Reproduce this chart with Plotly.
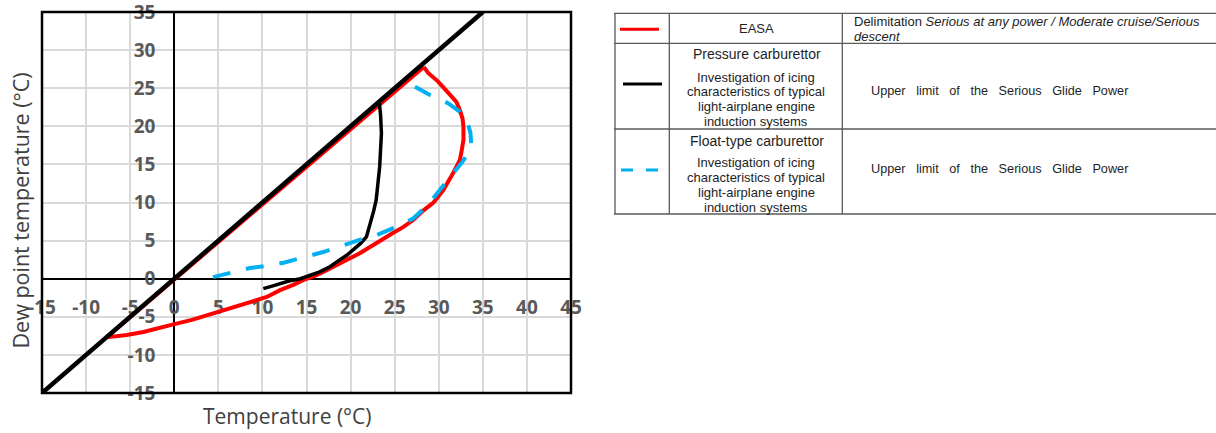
import plotly.graph_objects as go

# ---------------- data ----------------
diag_temp = [-15, 35]
diag_dew = [-15, 35]

easa_temp = [28.3, 28.8, 29.2, 29.9, 30.6, 31.4, 32.0, 32.4, 32.7, 32.8, 32.8, 32.6, 32.4,
             31.6, 30.5, 29.4, 28.2, 27.1, 26.0, 24.8, 23.5, 22.2, 21.0, 19.6, 18.2, 16.9,
             15.8, 14.6, 13.5, 12.0, 10.5, 8.6, 6.7, 5.0, 3.7, 2.0, -0.1, -2.0, -3.5, -5.4,
             -7.3, -7.7, 28.3]
easa_dew = [27.8, 27.0, 26.6, 25.9, 25.0, 23.9, 23.2, 22.1, 21.0, 19.9, 18.2, 16.8, 15.6,
            13.8, 11.6, 10.0, 8.9, 7.7, 6.8, 6.0, 5.1, 4.2, 3.3, 2.5, 1.6, 0.9,
            0.3, -0.2, -0.8, -1.5, -2.4, -3.1, -3.7, -4.3, -4.8, -5.4, -6.0, -6.6, -7.0, -7.4,
            -7.6, -7.7, 27.8]

press_temp = [23.25, 23.4, 23.5, 23.4, 23.3, 23.1, 22.9, 22.6, 22.2, 21.8, 21.1, 20.3, 19.6,
              18.8, 17.7, 16.5, 15.4, 14.3, 13.0, 12.0, 11.0, 10.1]
press_dew = [23.2, 21.5, 19.1, 16.5, 14.7, 12.5, 10.3, 8.8, 7.3, 5.5, 4.6, 3.8, 3.1,
             2.5, 1.6, 0.9, 0.4, 0.0, -0.3, -0.6, -1.0, -1.3]

float_temp = [27.3, 29.0, 30.2, 31.1, 32.4, 33.2, 33.6, 33.7, 33.2, 32.6, 31.6, 30.6, 29.4,
              28.4, 27.1, 25.2, 22.9, 21.0, 19.0, 16.9, 14.3, 12.4, 10.5, 8.6, 6.5, 4.4]
float_dew = [25.2, 24.1, 23.5, 23.0, 21.9, 20.8, 19.1, 17.3, 16.2, 15.2, 13.8, 12.3, 10.6,
             9.3, 7.9, 6.8, 5.7, 5.1, 4.3, 3.5, 2.7, 2.1, 1.7, 1.4, 0.8, 0.2]

x_range = [-15, 45]
y_range = [-15, 35]
x_tickvals = [-15, -10, -5, 0, 5, 10, 15, 20, 25, 30, 35, 40, 45]
x_ticktext = ["-15", "-10", "-5", "0", "5", "10", "15", "20", "25", "30", "35", "40", "45"]
y_tickvals = [-15, -10, -5, 0, 5, 10, 15, 20, 25, 30, 35]
y_ticktext = ["-15", "-10", "-5", "0", "5", "10", "15", "20", "25", "30", "35"]

x_title = "Temperature (°C)"
y_title = "Dew point temperature (°C)"

# ---------------- layout geometry ----------------
W, H = 1216, 433
ML, MR, MT, MB = 42, 0, 12, 40
PW, PH = W - ML - MR, H - MT - MB
plot_right_px = 571
xdom = (plot_right_px - ML) / PW


def px(xp):
    return (xp - ML) / PW


def py(yp):
    return (H - MB - yp) / PH


x0_frac = (0 - x_range[0]) / (x_range[1] - x_range[0])
y0_frac = (0 - y_range[0]) / (y_range[1] - y_range[0])

fig = go.Figure()

fig.add_trace(go.Scatter(x=easa_temp, y=easa_dew, mode="lines",
                         line=dict(color="#ff0000", width=4), hoverinfo="skip"))
fig.add_trace(go.Scatter(x=press_temp, y=press_dew, mode="lines",
                         line=dict(color="#000000", width=3.5), hoverinfo="skip"))
fig.add_trace(go.Scatter(x=float_temp, y=float_dew, mode="lines",
                         line=dict(color="#00b0f0", width=4, dash="18px,16px"), hoverinfo="skip"))
fig.add_trace(go.Scatter(x=diag_temp, y=diag_dew, mode="lines",
                         line=dict(color="#000000", width=4.5), hoverinfo="skip"))

tickfont = dict(family="Open Sans", size=19, color="#595959", weight="bold")

fig.update_xaxes(domain=[0, xdom], range=x_range, tickmode="array",
                 tickvals=x_tickvals, ticktext=x_ticktext,
                 anchor="free", position=y0_frac, automargin=False,
                 showline=True, linecolor="#000000", linewidth=2,
                 showgrid=True, gridcolor="#d9d9d9", gridwidth=2, zeroline=False,
                 ticks="", tickfont=tickfont, ticklabelstandoff=11,
                 ticklabeloverflow="allow", layer="below traces")
fig.update_yaxes(domain=[0, 1], range=y_range, tickmode="array",
                 tickvals=y_tickvals, ticktext=y_ticktext,
                 anchor="free", position=x0_frac * xdom, automargin=False,
                 showline=True, linecolor="#000000", linewidth=2,
                 showgrid=True, gridcolor="#d9d9d9", gridwidth=2, zeroline=False,
                 ticks="", tickfont=tickfont, ticklabelstandoff=14,
                 ticklabeloverflow="allow", layer="below traces")

shapes = []
# plot frame
shapes.append(dict(type="rect", xref="x domain", yref="y domain", x0=0, x1=1, y0=0, y1=1,
                   line=dict(color="#000000", width=2.5), layer="above"))

# ---------------- legend table ----------------
tcol = "#5a5a5a"
rows_y = [13.3, 43.3, 129, 214]
for yy in rows_y:
    shapes.append(dict(type="line", xref="paper", yref="paper", x0=px(614), x1=px(1216),
                       y0=py(yy), y1=py(yy), line=dict(color=tcol, width=1.3)))
for xx in [615, 669.3, 842.3]:
    shapes.append(dict(type="line", xref="paper", yref="paper", x0=px(xx), x1=px(xx),
                       y0=py(13.3), y1=py(214), line=dict(color=tcol, width=1.3)))
# legend samples
shapes.append(dict(type="line", xref="paper", yref="paper", x0=px(620), x1=px(659),
                   y0=py(29.3), y1=py(29.3), line=dict(color="#ff0000", width=3)))
shapes.append(dict(type="line", xref="paper", yref="paper", x0=px(623), x1=px(662),
                   y0=py(84), y1=py(84), line=dict(color="#000000", width=3)))
shapes.append(dict(type="line", xref="paper", yref="paper", x0=px(621), x1=px(658),
                   y0=py(170), y1=py(170), line=dict(color="#00b0f0", width=3, dash="12px,13px")))
fig.update_layout(shapes=shapes)

ann = []
txtcol = "#1e1e1e"
body = dict(family="Liberation Sans, Arial", size=13, color=txtcol)
head = dict(family="Liberation Sans, Arial", size=14, color=txtcol)
glidefont = dict(family="Liberation Sans, Arial", size=12.7, color=txtcol)


def add_text(t, xp, yp, font, xanchor="center"):
    ann.append(dict(text=t, x=px(xp), y=py(yp), xref="paper", yref="paper",
                    xanchor=xanchor, yanchor="middle", showarrow=False, font=font))


add_text("EASA", 756, 29, body)
add_text("Pressure carburettor", 757, 54.5, head)
for t, yy in zip(["Investigation of icing", "characteristics of typical",
                  "light-airplane engine", "induction systems"], [77.3, 91.7, 106.7, 121.7]):
    add_text(t, 756, yy, body)
add_text("Float-type carburettor", 757, 140.5, head)
for t, yy in zip(["Investigation of icing", "characteristics of typical",
                  "light-airplane engine", "induction systems"], [162.7, 177.2, 192.7, 207.3]):
    add_text(t, 756, yy, body)
add_text("Delimitation <i>Serious at any power / Moderate cruise/Serious</i>", 852, 21.7, body, "left")
add_text("<i>descent</i>", 852, 36, body, "left")
sp = " \u00a0\u00a0"
glide = sp.join(["Upper", "limit", "of", "the", "Serious", "Glide", "Power"])
add_text(glide, 869, 90.7, glidefont, "left")
add_text(glide, 869, 169.3, glidefont, "left")

# axis titles
ann.append(dict(text=x_title, x=px(287.5), y=py(416), xref="paper", yref="paper",
                xanchor="center", yanchor="middle", showarrow=False,
                font=dict(family="Open Sans", size=21, color="#404040")))
ann.append(dict(text=y_title, x=px(20), y=py(210.5), xref="paper", yref="paper",
                xanchor="center", yanchor="middle", showarrow=False, textangle=-90,
                font=dict(family="Open Sans", size=21.5, color="#404040")))

fig.update_layout(annotations=ann, width=W, height=H,
                  margin=dict(l=ML, r=MR, t=MT, b=MB, autoexpand=False),
                  plot_bgcolor="#ffffff", paper_bgcolor="#ffffff", showlegend=False)

fig.write_html("out.html", config={"displayModeBar": False},
               post_script="document.body.style.margin='0';"
                           "document.body.style.overflow='hidden';"
                           "document.documentElement.style.overflow='hidden';")
